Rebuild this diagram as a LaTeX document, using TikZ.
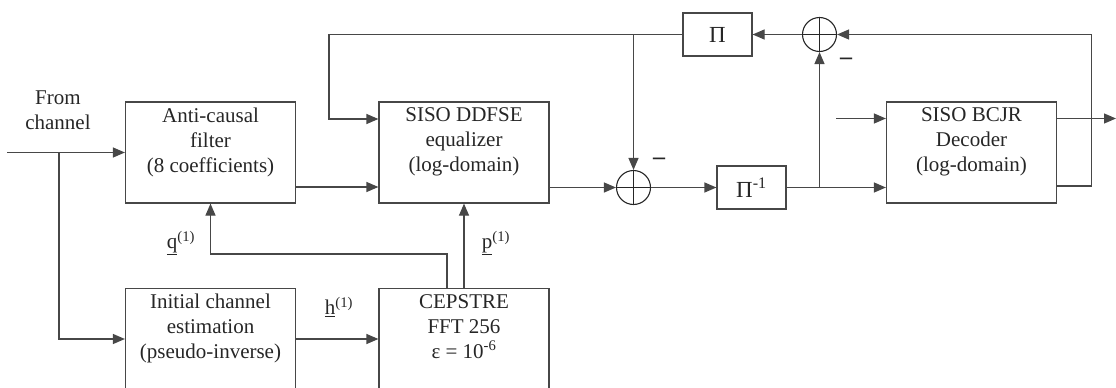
\documentclass[tikz,border=0pt]{standalone}
\usepackage{fontspec}
\setmainfont{Liberation Serif}
\usetikzlibrary{arrows.meta,calc}
\begin{document}
\begin{tikzpicture}[x=1pt,y=-1pt,
  line/.style={draw=black!72, line width=1.2pt},
  arr/.style={line, -{Triangle[length=12pt,width=10pt]}},
  blk/.style={draw=black!72, line width=1.2pt, minimum width=170pt, minimum height=101pt, inner sep=0pt},
  smallblk/.style={draw=black!72, line width=1.2pt, minimum width=69pt, minimum height=43pt, inner sep=0pt, text=black!85, font=\fontsize{23}{26}\selectfont},
  txt/.style={align=center, inner sep=0pt, text=black!85, font=\fontsize{21}{25}\selectfont},
  minus/.style={inner sep=0pt, text=black!85, font=\fontsize{24}{26}\selectfont\bfseries},
  sum/.style={circle, draw=black!85, line width=1.1pt, minimum size=34pt, inner sep=0pt,
    path picture={\draw[black!85, line width=1.1pt] (path picture bounding box.north) -- (path picture bounding box.south) (path picture bounding box.west) -- (path picture bounding box.east);}},
]
\useasboundingbox (0,0) rectangle (1116,388);

% blocks
\node[blk] (ac) at (210.5,152.5) {};
\node[txt, anchor=north] (actxt) at ([yshift=-6pt]ac.north) {Anti-causal\\filter\\(8 coefficients)};
\node[blk] (ddfse) at (464,152.5) {};
\node[txt, anchor=north] (ddfsetxt) at ([yshift=-6pt]ddfse.north) {SISO DDFSE\\equalizer\\(log-domain)};
\node[blk] (bcjr) at (971.5,152.5) {};
\node[txt, anchor=north] (bcjrtxt) at ([yshift=-6pt]bcjr.north) {SISO BCJR\\Decoder\\(log-domain)};
\node[blk] (init) at (210.5,339) {};
\node[txt, anchor=north] (inittxt) at ([yshift=-6pt]init.north) {Initial channel\\estimation\\(pseudo-inverse)};
\node[blk] (cep) at (464,339) {};
\node[txt, anchor=north] (ceptxt) at ([yshift=-6pt]cep.north) {CEPSTRE\\FFT 256\\ε = 10\textsuperscript{-6}};

\node[smallblk] (pi) at (717.5,34.5) {Π};
\node[smallblk] (pinv) at (751.5,187.5) {Π\textsuperscript{-1}};

\node[sum] (sum1) at (633.5,187.5) {};
\node[sum] (sum2) at (819.5,34.5) {};

\node[minus] (m1) at (659,161) {–};
\node[minus] (m2) at (846,61) {–};

% input
\node[txt] (from) at (58,110) {From\\channel};
\coordinate (in) at (7,152.5);
\coordinate (split) at (59,152.5);
\draw[arr] (in) -- (ac.west);
\draw[arr] (split) |- (init.west);

% forward path
\draw[arr] ([yshift=-34.5pt]ac.east) -- ([yshift=-34.5pt]ddfse.west);
\draw[arr] ([yshift=-35pt]ddfse.east) -- (sum1.west);
\draw[arr] (sum1.east) -- (pinv.west);
\draw[arr] (pinv.east) -- (pinv.east -| bcjr.west);
\draw[arr] (pinv.east -| sum2.south) -- (sum2.south);

% feedback
\coordinate (fbL) at (329,34.5);
\draw[arr] (pi.west) -- (fbL) |- ([yshift=33.5pt]ddfse.west);
\draw[arr] (pi.west -| sum1.north) -- (sum1.north);
\draw[arr] ([yshift=-33.5pt]bcjr.east) -- ++(34,0) |- (sum2.east);
\draw[arr] (sum2.west) -- (pi.east);

% BCJR in/out
\coordinate (bin) at (836,118.5);
\coordinate (bout) at (1116,118.5);
\draw[arr] (bin) -- (bin -| bcjr.west);
\draw[arr] (bin -| bcjr.east) -- (bout);

% lower part
\draw[arr] (init.east) -- (cep.west);
\draw[arr] ([xshift=-17pt]cep.north) -- ++(0,-34) -| (ac.south);
\draw[arr] (cep.north) -- (ddfse.south);

\node[txt] (ql) at (181,243) {\underline{q}\textsuperscript{(1)}};
\node[txt] (pl) at (496,243) {\underline{p}\textsuperscript{(1)}};
\node[txt] (hl) at (339,307) {\underline{h}\textsuperscript{(1)}};
\end{tikzpicture}
\end{document}
